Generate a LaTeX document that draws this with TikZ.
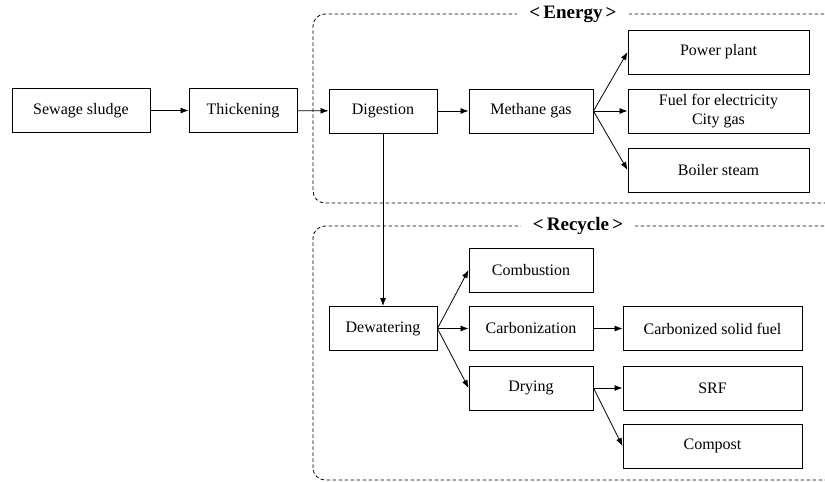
\documentclass[tikz,border=0pt]{standalone}
\usepackage{fontspec}
\setmainfont{Liberation Serif}
\usetikzlibrary{arrows.meta,positioning}

\begin{document}
\begin{tikzpicture}[x=1pt,y=-1pt,>={Latex[length=8pt,width=6pt]},
box/.style={draw,line width=0.9pt,minimum height=44pt,inner sep=0pt,align=center,font=\fontsize{16}{19}\selectfont},
frame/.style={draw,line width=0.8pt,dash pattern=on 3.5pt off 2.5pt,rounded corners=12pt},
tag/.style={fill=white,inner xsep=12pt,inner ysep=3pt,font=\fontsize{19}{22}\selectfont\bfseries},
link/.style={->,line width=0.8pt}]
\useasboundingbox(0,0)rectangle(825,482);
% dashed groups
\draw[frame](830,14)--(313,14)--(313,203)--(830,203);
\draw[frame](830,226)--(313,226)--(313,480)--(830,480);
\node[tag](energy)at(573,14){<\,Energy\,>};
\node[tag](recycle)at(578,226){<\,Recycle\,>};
% main line
\node[box,minimum width=138pt](sludge)at(81,110.5){Sewage sludge};
\node[box,minimum width=108pt](thick)at(243,110.5){Thickening};
\node[box,minimum width=108pt](digest)at(383,111){Digestion};
\node[box,minimum width=124pt](methane)at(531,111){Methane gas};
\node[box,minimum width=181pt](power)at(718.5,52){Power plant};
\node[box,minimum width=181pt](fuel)at(718.5,111){Fuel for electricity\\City gas};
\node[box,minimum width=181pt](boiler)at(718.5,170){Boiler steam};
% recycle line
\node[box,minimum width=108pt](dewater)at(383,328.5){Dewatering};
\node[box,minimum width=124pt](combust)at(531,270){Combustion};
\node[box,minimum width=124pt](carbon)at(531,328.5){Carbonization};
\node[box,minimum width=124pt](drying)at(531,388){Drying};
\node[box,minimum width=179pt](csf)at(712.5,328.5){Carbonized solid fuel};
\node[box,minimum width=179pt](srf)at(712.5,388){SRF};
\node[box,minimum width=179pt](compost)at(712.5,446){Compost};
% arrows
\draw[link](sludge)--(thick);
\draw[link](thick)--(digest);
\draw[link](digest)--(methane);
\foreach \t in {power,fuel,boiler}{\draw[link](methane.east)--(\t.west);}
\draw[link](digest)--(dewater);
\foreach \t in {combust,carbon,drying}{\draw[link](dewater.east)--(\t.west);}
\draw[link](carbon)--(csf);
\foreach \t in {srf,compost}{\draw[link](drying.east)--(\t.west);}
\end{tikzpicture}
\end{document}
